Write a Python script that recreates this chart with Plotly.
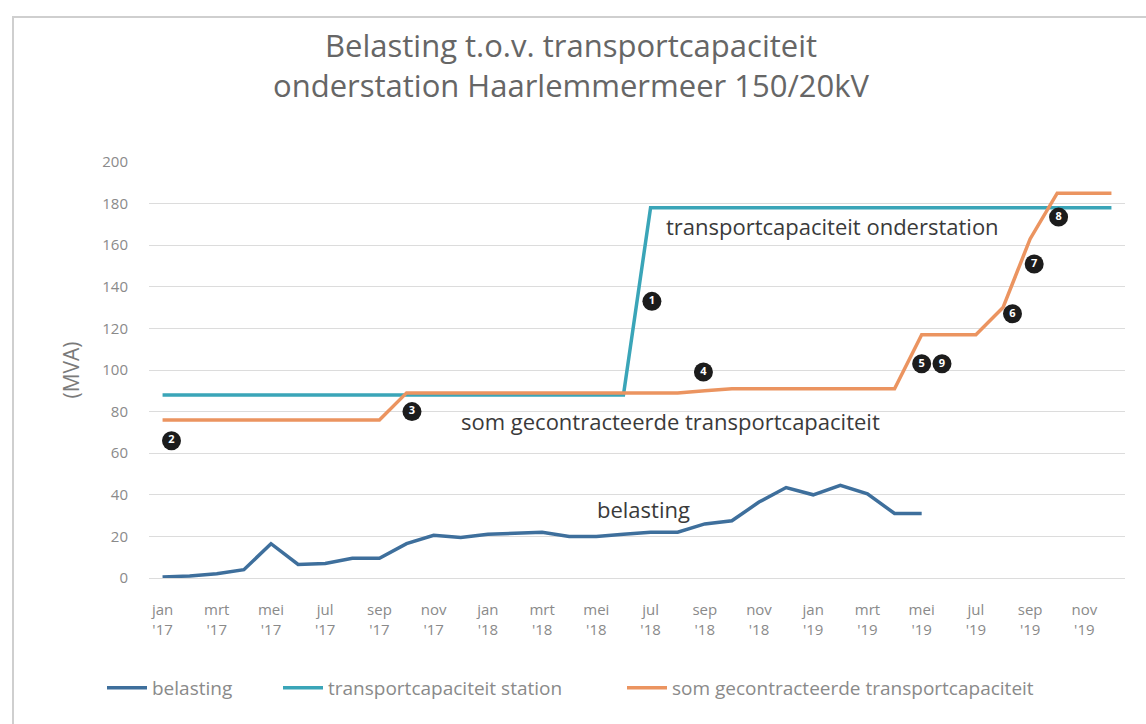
import plotly.graph_objects as go
import numpy as np

# ---- data ----
month_names = ["jan", "feb", "mrt", "apr", "mei", "jun", "jul", "aug", "sep", "okt", "nov", "dec"]
years = ["17", "18", "19"]
months = [f"{m} '{y}" for y in years for m in month_names]

belasting = [0.5, 1, 2, 4, 16.5, 6.5, 7, 9.5, 9.5, 16.5, 20.5, 19.5,
             21, 21.5, 22, 20, 20, 21, 22, 22, 26, 27.5, 36.5, 43.5,
             40, 44.5, 40.5, 31, 31]
transport_station = [88, 88, 88, 88, 88, 88, 88, 88, 88, 88, 88, 88,
                     88, 88, 88, 88, 88, 88, 178, 178, 178, 178, 178, 178,
                     178, 178, 178, 178, 178, 178, 178, 178, 178, 178, 178, 178]
gecontracteerd = [76, 76, 76, 76, 76, 76, 76, 76, 76, 89, 89, 89,
                  89, 89, 89, 89, 89, 89, 89, 89, 90, 91, 91, 91,
                  91, 91, 91, 91, 117, 117, 117, 130, 163, 185, 185, 185]

series_names = ["belasting", "transportcapaciteit station", "som gecontracteerde transportcapaciteit"]

# numbered event markers (month index position, MVA)
marker_labels = ["2", "3", "1", "4", "5", "9", "6", "7", "8"]
marker_x = [0.33, 9.2, 18.05, 19.95, 28.0, 28.75, 31.35, 32.15, 33.05]
marker_y = [66, 80, 133, 99, 103, 103, 127, 151, 173.5]

# inline series labels
label_text = ["transportcapaciteit onderstation", "som gecontracteerde transportcapaciteit", "belasting"]
label_x = [18.5, 10.95, 15.95]
label_y = [169, 75.5, 33]

title_lines = ["Belasting t.o.v. transportcapaciteit", "onderstation Haarlemmermeer 150/20kV"]

# ---- layout helpers (pixel geometry of the plot area) ----
FONT = "Open Sans"
PL, PT, PW, PH = 149, 162, 976, 416   # plot left, top, width, height in px


def px_x(px):
    return (px - PL) / PW


def px_y(py):
    return (PT + PH - py) / PH


x_all = np.arange(len(months))
colors = ["#3E6F9C", "#3AA5B8", "#EB9460"]
series = [belasting, transport_station, gecontracteerd]
legend_ids = ["legend", "legend2", "legend3"]
legend_px = [102, 278, 622]

fig = go.Figure()
for name, vals, col, lid in zip(series_names, series, colors, legend_ids):
    fig.add_trace(go.Scatter(x=x_all[:len(vals)], y=vals, mode="lines", name=name, legend=lid,
                             line=dict(color=col, width=3.5), cliponaxis=False))

fig.add_trace(go.Scatter(x=marker_x, y=marker_y, mode="markers+text", text=marker_labels,
                         textposition="middle center", showlegend=False,
                         textfont=dict(family=FONT, size=11, color="white", weight="bold"),
                         marker=dict(size=19, color="#1C1C1C", line=dict(width=0)),
                         cliponaxis=False))

for t, lx, ly in zip(label_text, label_x, label_y):
    fig.add_annotation(x=lx, y=ly, text=t, showarrow=False, xanchor="left", yanchor="middle",
                       font=dict(family=FONT, size=22, color="#3A3A3A"))

for i, t in enumerate(title_lines):
    fig.add_annotation(x=px_x(571), y=px_y(45 + 40 * i), xref="paper", yref="paper",
                       yanchor="middle", xanchor="center", text=t, showarrow=False,
                       font=dict(family=FONT, size=31, color="#666666"))

tickvals = list(x_all[::2])
ticktext = [months[i].replace(" ", "<br>") for i in tickvals]

fig.update_xaxes(range=[-0.5, len(months) - 0.5], tickvals=tickvals, ticktext=ticktext,
                 showgrid=False, zeroline=False, showline=False, ticks="",
                 tickfont=dict(family=FONT, size=15, color="#8A8A8A"),
                 ticklabelstandoff=21)
fig.update_yaxes(range=[0, 200], dtick=20, showgrid=True, gridcolor="#DCDCDC", gridwidth=1,
                 zeroline=True, zerolinecolor="#DCDCDC", zerolinewidth=1, showline=False,
                 tickfont=dict(family=FONT, size=15, color="#8A8A8A"),
                 ticklabelstandoff=20,
                 title=dict(text="(MVA)", font=dict(family=FONT, size=21, color="#7A7A7A"),
                            standoff=16))

fig.add_shape(type="rect", xref="paper", yref="paper",
              x0=px_x(13), x1=1.03, y0=-0.5, y1=px_y(17),
              line=dict(color="#CFCFCF", width=2), fillcolor="rgba(0,0,0,0)", layer="below")

legend_common = dict(orientation="h", xanchor="left", y=px_y(688), yanchor="middle",
                     font=dict(family=FONT, size=19, color="#8A8A8A"), itemwidth=40,
                     bgcolor="rgba(0,0,0,0)")
fig.update_layout(
    width=1146, height=724,
    margin=dict(l=PL, r=1146 - PL - PW, t=PT, b=724 - PT - PH),
    paper_bgcolor="white", plot_bgcolor="white",
    showlegend=True,
    legend=dict(x=px_x(legend_px[0]), **legend_common),
    legend2=dict(x=px_x(legend_px[1]), **legend_common),
    legend3=dict(x=px_x(legend_px[2]), **legend_common),
    font=dict(family=FONT),
)

fig.write_html("out.html", config={"displayModeBar": False},
               post_script="document.body.style.margin='0';document.body.style.overflow='hidden';")
